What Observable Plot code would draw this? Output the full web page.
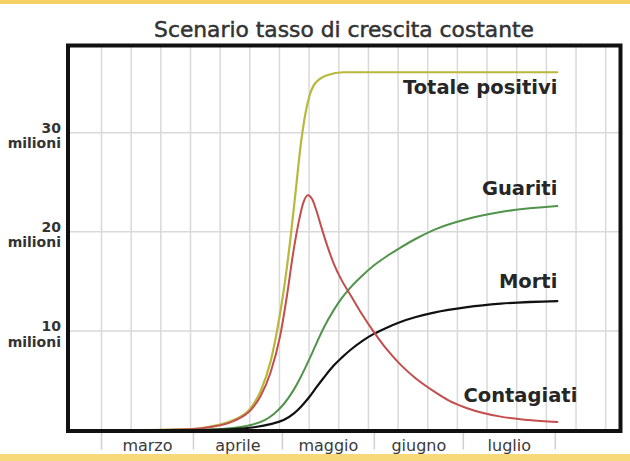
<!DOCTYPE html>
<html>
<head>
<meta charset="utf-8">
<script src="https://cdn.jsdelivr.net/npm/d3@7"></script>
<script src="https://cdn.jsdelivr.net/npm/@observablehq/plot@0.6"></script>
<style>
  body { margin: 0; background: #fff; }
  #wrap { position: relative; width: 630px; height: 461px; overflow: hidden; background: #fff; font-family: "DejaVu Sans", sans-serif; }
  #title { position: absolute; top: 18px; left: 59px; width: 570px; text-align: center; font-size: 21.8px; line-height: 24px; color: #333; font-family: "DejaVu Sans", sans-serif; -webkit-text-stroke: 0.5px #333; }
  #topbar { position: absolute; top: 0; left: 0; width: 630px; height: 4px; background: #f5d163; }
  #botbar { position: absolute; bottom: 0; left: 0; width: 630px; height: 7px; background: #f8d97a; }
  #chart { position: absolute; top: 0; left: 0; }
</style>
</head>
<body>
<div id="wrap">
  <div id="chart"></div>
  <div id="title">Scenario tasso di crescita costante</div>
  <div id="topbar"></div>
  <div id="botbar"></div>
</div>
<script>
// Giorni dal 20 febbraio 2020 (1 marzo = giorno 10); valori in milioni
const totaleGiorni   = [25, 40, 46.8, 54.5, 60.3, 63.6, 67, 69.3, 71.4, 73.7, 75.4, 77.1, 78.8, 80.2, 81.6, 83.5, 86.1, 91.6, 120, 163.7];
const totaleMilioni  = [0, 0.1, 0.35, 1.0, 2.2, 3.9, 6.9, 10.2, 14.0, 19.3, 23.9, 28.6, 32.0, 33.8, 34.8, 35.4, 35.8, 36.1, 36.1, 36.1];

const contagiatiGiorni  = [25, 40, 46.8, 54.5, 60.3, 63.6, 67, 70.3, 72.5, 74.7, 76.5, 78, 79.6, 81, 82.5, 84, 86.1, 88.3, 91, 94, 98, 101.8, 106, 110.8, 116, 122.1, 127, 133.3, 144.6, 154, 163.7];
const contagiatiMilioni = [0, 0.08, 0.3, 0.9, 2.0, 3.4, 5.8, 9.6, 13.5, 18.0, 21.0, 22.9, 23.7, 23.3, 22.1, 20.6, 18.6, 16.8, 15.1, 13.6, 11.6, 9.9, 8.2, 6.6, 5.2, 3.9, 3.0, 2.2, 1.35, 1.0, 0.8];

const guaritiGiorni  = [40, 50, 56.9, 60.3, 65, 68, 71.4, 74.9, 77.1, 80, 82.7, 84.9, 88.3, 91, 94, 98, 101.8, 106, 110.8, 116, 122.1, 133.3, 144.6, 163.7];
const guaritiMilioni = [0, 0.1, 0.3, 0.5, 1.0, 1.6, 2.6, 4.1, 5.3, 7.1, 8.9, 10.3, 12.1, 13.3, 14.4, 15.6, 16.6, 17.5, 18.4, 19.3, 20.2, 21.3, 22.0, 22.6];

const mortiGiorni  = [45, 55, 62, 67, 71.4, 75, 77.1, 80, 82.7, 85, 88.3, 91, 94, 98, 101.8, 106, 110.8, 116, 122.1, 133.3, 144.6, 163.7];
const mortiMilioni = [0, 0.1, 0.3, 0.6, 1.0, 1.7, 2.3, 3.3, 4.4, 5.3, 6.5, 7.3, 8.1, 9.0, 9.7, 10.3, 10.9, 11.4, 11.85, 12.4, 12.75, 13.0];

const mesi = ["marzo", "aprile", "maggio", "giugno", "luglio"];
const inizioMese = [10, 41, 71, 102, 132, 163];
const ticksY = [10, 20, 30];
const griglia = d3.range(10, 181, 10);

const toRows = (gg, vv) => gg.map((g, i) => ({giorno: g, milioni: vv[i]}));
const totale = toRows(totaleGiorni, totaleMilioni);
const contagiati = toRows(contagiatiGiorni, contagiatiMilioni);
const guariti = toRows(guaritiGiorni, guaritiMilioni);
const morti = toRows(mortiGiorni, mortiMilioni);
const centroMese = mesi.map((m, i) => (inizioMese[i] + inizioMese[i + 1]) / 2);
const last = a => [a[a.length - 1]];

const labelStyle = {x: "giorno", y: "milioni", textAnchor: "end", fontSize: 19.5, fontWeight: "bold", fill: "#262626", fontFamily: "DejaVu Sans"};

const chart = Plot.plot({
  width: 630,
  height: 461,
  marginTop: 45,
  marginBottom: 30.5,
  marginLeft: 67.5,
  marginRight: 10,
  style: {fontFamily: "DejaVu Sans", background: "transparent", color: "#333"},
  x: {domain: [-1.3, 185], axis: null},
  y: {domain: [-0.1, 38.8], axis: null},
  marks: [
    Plot.ruleX(griglia, {stroke: "#d9d9d9", strokeWidth: 1.5}),
    Plot.ruleY(ticksY, {stroke: "#d9d9d9", strokeWidth: 1.5}),
    Plot.axisX(inizioMese, {tickSize: 19, stroke: "#d0d0d0", strokeWidth: 1.5, tickFormat: () => "", label: null}),
    Plot.axisX(centroMese, {tickSize: 0, tickPadding: 9, fontSize: 16, fill: "#3a3a3a", label: null, tickFormat: d => mesi[centroMese.indexOf(d)]}),
    Plot.axisY(ticksY, {tickSize: 0, tickPadding: 7, fontSize: 14, fontWeight: "bold", fill: "#333", dy: 3, lineHeight: 1.1, label: null, tickFormat: d => d + "\nmilioni"}),
    Plot.line(totale, {x: "giorno", y: "milioni", stroke: "#b8b83c", strokeWidth: 2.2, curve: "monotone-x"}),
    Plot.line(guariti, {x: "giorno", y: "milioni", stroke: "#4f944a", strokeWidth: 2, curve: "monotone-x"}),
    Plot.line(morti, {x: "giorno", y: "milioni", stroke: "#111", strokeWidth: 2.2, curve: "monotone-x"}),
    Plot.line(contagiati, {x: "giorno", y: "milioni", stroke: "#c44e4e", strokeWidth: 2, curve: "monotone-x"}),
    Plot.text(last(totale), {...labelStyle, text: () => "Totale positivi", dy: 15}),
    Plot.text(last(guariti), {...labelStyle, text: () => "Guariti", dy: -17}),
    Plot.text(last(morti), {...labelStyle, text: () => "Morti", dy: -19}),
    Plot.text(last(contagiati), {...labelStyle, text: () => "Contagiati", dy: -26, dx: 20}),
    Plot.frame({stroke: "#111", strokeWidth: 4})
  ]
});
document.getElementById("chart").appendChild(chart);
</script>
</body>
</html>
